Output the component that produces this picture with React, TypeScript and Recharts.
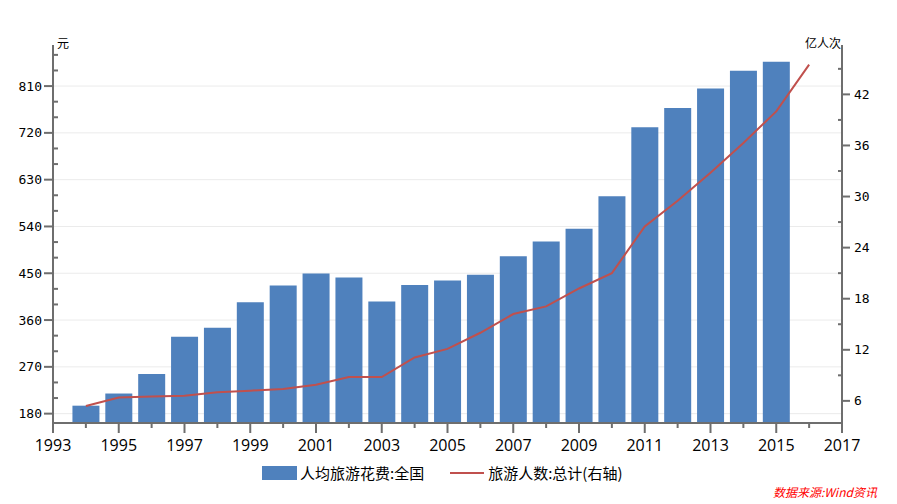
import { ComposedChart, Bar, Line, XAxis, YAxis, CartesianGrid } from 'recharts'

const years = [1994, 1995, 1996, 1997, 1998, 1999, 2000, 2001, 2002, 2003, 2004, 2005, 2006, 2007, 2008, 2009, 2010, 2011, 2012, 2013, 2014, 2015, 2016]
// 人均旅游花费:全国 (元)
const spendPerCapita = [195.3, 218.7, 256.2, 328.1, 345.0, 394.0, 426.6, 449.5, 441.8, 395.7, 427.5, 436.1, 446.9, 482.6, 511.0, 535.4, 598.2, 731.0, 767.9, 805.5, 839.7, 857.0, null]
// 旅游人数:总计 (亿人次)
const tripsTotal = [5.4, 6.4, 6.5, 6.6, 7.0, 7.2, 7.4, 7.9, 8.8, 8.8, 11.1, 12.1, 14.0, 16.2, 17.1, 19.2, 21.0, 26.5, 29.5, 32.8, 36.3, 40.0, 45.5]

const xTicks = [1993, 1994, 1995, 1996, 1997, 1998, 1999, 2000, 2001, 2002, 2003, 2004, 2005, 2006, 2007, 2008, 2009, 2010, 2011, 2012, 2013, 2014, 2015, 2016, 2017]
const leftTicks = [180, 210, 240, 270, 300, 330, 360, 390, 420, 450, 480, 510, 540, 570, 600, 630, 660, 690, 720, 750, 780, 810, 840, 870]
const leftMajor = [180, 270, 360, 450, 540, 630, 720, 810]
const rightTicks = [6, 9, 12, 15, 18, 21, 24, 27, 30, 33, 36, 39, 42, 45]
const rightMajor = [6, 12, 18, 24, 30, 36, 42]
const leftDomain = [162, 889]

const data = years.map((year, i) => ({ year, spend: spendPerCapita[i], trips: tripsTotal[i] }))

const AXIS = '#6e6e6e'
const BLUE = '#4f81bd'
const RED = '#c0504d'
const numFont = '"DejaVu Sans Mono", monospace'
const cjkFont = '"Noto Sans CJK SC", sans-serif'

function XTick({ x, y, payload }: any) {
  const major = payload.value % 2 === 1
  return (
    <g>
      <line x1={x} y1={y} x2={x} y2={y + (major ? 10 : 5)} stroke={AXIS} strokeWidth={2} />
      {major && (
        <text x={x} y={y + 28} textAnchor="middle" fontSize={16} fontFamily='"Open Sans", sans-serif' fill="#000">
          {payload.value}
        </text>
      )}
    </g>
  )
}

function LeftTick({ x, y, payload }: any) {
  const major = leftMajor.includes(payload.value)
  return (
    <g>
      <line x1={x} y1={y} x2={major ? x - 9 : x + 5} y2={y} stroke={AXIS} strokeWidth={2} />
      {major && (
        <text x={x - 11} y={y} dy="0.35em" textAnchor="end" fontSize={13} fontFamily={numFont} fill="#000">
          {payload.value}
        </text>
      )}
    </g>
  )
}

function RightTick({ x, y, payload }: any) {
  const major = rightMajor.includes(payload.value)
  return (
    <g>
      <line x1={x} y1={y} x2={major ? x + 8 : x - 4} y2={y} stroke={AXIS} strokeWidth={2} />
      {major && (
        <text x={x + 12} y={y} dy="0.35em" textAnchor="start" fontSize={13} fontFamily={numFont} fill="#000">
          {payload.value}
        </text>
      )}
    </g>
  )
}

// grid only at the labelled left-axis values
function gridRows({ yAxis, offset }: any) {
  if (yAxis && typeof yAxis.scale === 'function') return leftMajor.map((v) => yAxis.scale(v))
  const [lo, hi] = leftDomain
  return leftMajor.map((v) => offset.top + offset.height * (1 - (v - lo) / (hi - lo)))
}

export default function App() {
  return (
    <div style={{ position: 'absolute', left: 0, top: 0, width: 897, height: 504, background: '#fff' }}>
      <ComposedChart width={897} height={504} data={data} margin={{ top: 45, right: 10, left: 8, bottom: 51 }}>
        <CartesianGrid yAxisId="left" vertical={false} stroke="#ebebeb" horizontalCoordinatesGenerator={gridRows} />
        <XAxis
          dataKey="year"
          type="number"
          domain={[1993, 2017]}
          ticks={xTicks}
          interval={0}
          allowDataOverflow
          height={30}
          tickSize={0}
          tickMargin={0}
          tick={<XTick />}
          axisLine={{ stroke: AXIS, strokeWidth: 2 }}
          tickLine={false}
        />
        <YAxis
          yAxisId="left"
          domain={leftDomain}
          ticks={leftTicks}
          interval={0}
          allowDataOverflow
          width={45}
          tickSize={0}
          tickMargin={0}
          tick={<LeftTick />}
          axisLine={{ stroke: AXIS, strokeWidth: 2 }}
          tickLine={false}
        />
        <YAxis
          yAxisId="right"
          orientation="right"
          domain={[3.4, 47.8]}
          ticks={rightTicks}
          interval={0}
          allowDataOverflow
          width={45}
          tickSize={0}
          tickMargin={0}
          tick={<RightTick />}
          axisLine={{ stroke: AXIS, strokeWidth: 2 }}
          tickLine={false}
        />
        <Bar yAxisId="left" dataKey="spend" fill={BLUE} barSize={27} isAnimationActive={false} />
        <Line yAxisId="right" dataKey="trips" type="linear" stroke={RED} strokeWidth={2} dot={false} activeDot={false} isAnimationActive={false} />
      </ComposedChart>

      <div style={{ position: 'absolute', left: 57, top: 36, fontSize: 12, fontFamily: cjkFont, lineHeight: '14px' }}>元</div>
      <div style={{ position: 'absolute', right: 897 - 841, top: 36, fontSize: 12, fontFamily: cjkFont, lineHeight: '14px' }}>亿人次</div>

      <div style={{ position: 'absolute', left: 262, top: 464, display: 'flex', alignItems: 'center', fontSize: 15, fontFamily: cjkFont, lineHeight: '18px' }}>
        <span style={{ display: 'inline-block', width: 35, height: 14, background: BLUE, marginRight: 3 }} />
        <span>人均旅游花费:全国</span>
        <span style={{ display: 'inline-block', width: 34, height: 2, background: RED, marginLeft: 26, marginRight: 4 }} />
        <span>旅游人数:总计(右轴)</span>
      </div>

      <div style={{ position: 'absolute', left: 773, top: 485, fontSize: 12, fontStyle: 'italic', color: '#ff0000', fontFamily: cjkFont, lineHeight: '14px' }}>
        数据来源:Wind资讯
      </div>
    </div>
  )
}
